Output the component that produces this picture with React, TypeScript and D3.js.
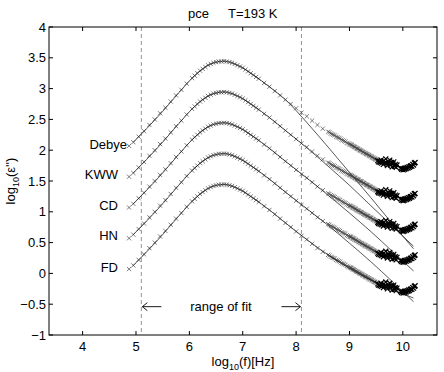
import * as d3 from "d3";

// measured loss curve (top trace, un-shifted), log10(f) vs log10(eps'')
const dataLogF = [
  4.87, 4.95, 5.05, 5.15, 5.25, 5.35, 5.45, 5.55, 5.65, 5.75, 5.85, 5.95, 6.05, 6.1,
  6.15, 6.2, 6.25, 6.3, 6.35, 6.4, 6.45, 6.5, 6.55, 6.6, 6.65, 6.7, 6.75, 6.8, 6.85,
  6.9, 6.95, 7.0, 7.05, 7.1, 7.15, 7.2, 7.25, 7.3,
  7.4, 7.5, 7.6, 7.7, 7.8, 7.9, 8.0, 8.1, 8.2, 8.3, 8.4, 8.5, 8.6,
  8.625, 8.65, 8.675, 8.7, 8.725, 8.75, 8.775, 8.8, 8.825, 8.85, 8.875, 8.9, 8.925,
  8.95, 8.975, 9.0,
  9.015, 9.03, 9.045, 9.06, 9.075, 9.09, 9.105, 9.12, 9.135, 9.15, 9.165, 9.18, 9.195,
  9.21, 9.225, 9.24, 9.255, 9.27, 9.285, 9.3, 9.315, 9.33, 9.345, 9.36, 9.375, 9.39,
  9.405, 9.42, 9.435, 9.45, 9.465, 9.48, 9.495, 9.51,
];
const dataTop = [
  2.07, 2.13, 2.22, 2.31, 2.41, 2.5, 2.6, 2.69, 2.79, 2.89, 2.98, 3.08, 3.17, 3.21,
  3.25, 3.29, 3.32, 3.35, 3.38, 3.4, 3.42, 3.43, 3.44, 3.44, 3.445, 3.44, 3.43, 3.42, 3.4,
  3.38, 3.36, 3.34, 3.31, 3.28, 3.25, 3.22, 3.19, 3.16,
  3.09, 3.03, 2.96, 2.89, 2.82, 2.75, 2.68, 2.61, 2.55, 2.48, 2.41, 2.35, 2.3,
  2.29, 2.27, 2.26, 2.25, 2.24, 2.22, 2.21, 2.2, 2.19, 2.17, 2.16, 2.15, 2.14,
  2.12, 2.11, 2.1,
  2.095, 2.09, 2.08, 2.07, 2.065, 2.055, 2.05, 2.04, 2.03, 2.025, 2.02, 2.01, 2.0,
  1.995, 1.99, 1.98, 1.97, 1.965, 1.955, 1.95, 1.94, 1.935, 1.93, 1.92, 1.91, 1.905,
  1.9, 1.89, 1.88, 1.875, 1.865, 1.86, 1.85, 1.845,
];

// noisy high-frequency points
const hfLogF = [
  9.53, 9.545, 9.56, 9.575, 9.59, 9.605, 9.62, 9.635, 9.65, 9.665, 9.68, 9.695, 9.71,
  9.725, 9.74, 9.755, 9.77, 9.785, 9.8, 9.815, 9.83, 9.845, 9.86, 9.875, 9.89,
  9.96, 9.975, 9.99, 10.005, 10.02, 10.035, 10.05, 10.065, 10.08, 10.095, 10.11,
  10.125, 10.14, 10.155, 10.17, 10.185, 10.2, 10.215, 10.23,
];
const hfTop = [
  1.83, 1.81, 1.82, 1.8, 1.84, 1.79, 1.81, 1.77, 1.83, 1.8, 1.86, 1.78, 1.75,
  1.82, 1.79, 1.84, 1.76, 1.8, 1.73, 1.78, 1.81, 1.74, 1.77, 1.72, 1.76,
  1.71, 1.69, 1.7, 1.68, 1.7, 1.69, 1.71, 1.7, 1.72, 1.71, 1.73,
  1.72, 1.74, 1.75, 1.74, 1.77, 1.76, 1.79, 1.8,
];

const models = ["Debye", "KWW", "CD", "HN", "FD"];
const offsets = [0, -0.5, -1, -1.5, -2];
const labelLevels = [2.1, 1.6, 1.11, 0.61, 0.1];

// fitted curves (un-shifted): shared part inside the fit range + per model tails
const fitLogF = [4.95, 5.2, 5.5, 5.8, 6.1, 6.4, 6.65, 6.9, 7.2, 7.5, 7.8, 8.2, 8.6, 9.0, 9.4, 9.8, 10.2];
const fitHead = [2.13, 2.35, 2.63, 2.93, 3.21, 3.4, 3.445, 3.38, 3.22, 3.03, 2.82];
const fitTails = [
  [2.45, 2.05, 1.64, 1.23, 0.81, 0.4],
  [2.54, 2.24, 1.93, 1.6, 1.27, 0.94],
  [2.55, 2.27, 1.98, 1.68, 1.36, 1.04],
  [2.55, 2.28, 1.99, 1.69, 1.37, 1.04],
  [2.55, 2.3, 2.08, 1.89, 1.74, 1.6],
];

const fitRange = [5.1, 8.1];
const xTicks = [4, 5, 6, 7, 8, 9, 10];
const yTicks = [-1, -0.5, 0, 0.5, 1, 1.5, 2, 2.5, 3, 3.5, 4];

const W = 444;
const H = 372;
const font = "'Liberation Sans', Arial, Helvetica, sans-serif";

export default function App() {
  const x = d3.scaleLinear().domain([3.37, 10.64]).range([49, 437]);
  const y = d3.scaleLinear().domain([-1, 4]).range([335, 27]);
  const [x0, x1] = x.range();
  const [y0, y1] = y.range();

  const cross = (px: number, py: number, s: number) =>
    `M${px - s},${py - s}L${px + s},${py + s}M${px - s},${py + s}L${px + s},${py - s}`;

  const line = d3
    .line<[number, number]>()
    .x((d) => x(d[0]))
    .y((d) => y(d[1]))
    .curve(d3.curveMonotoneX);

  const fmt = (v: number) => (v < 0 ? "\u2212" + String(-v) : String(v));

  return (
    <svg width={W} height={H} style={{ display: "block" }} fontFamily={font}>
      <style>{"body{margin:0}"}</style>
      <rect width={W} height={H} fill="#fff" />

      {/* range of fit */}
      {fitRange.map((v) => (
        <line
          key={v}
          x1={x(v)}
          x2={x(v)}
          y1={y1}
          y2={y0}
          stroke="#777"
          strokeWidth={0.8}
          strokeDasharray="4,3"
        />
      ))}

      {models.map((m, i) => {
        const off = offsets[i];
        const pts = dataLogF.map((f, j) => cross(x(f), y(dataTop[j] + off), 2.1)).join("");
        const hf = hfLogF.map((f, j) => cross(x(f), y(hfTop[j] + off), 2.5)).join("");
        const fit = fitLogF.map(
          (f, j) => [f, (j < fitHead.length ? fitHead[j] : fitTails[i][j - fitHead.length]) + off] as [number, number]
        );
        return (
          <g key={m}>
            <path d={pts} stroke="#444" strokeWidth={0.7} fill="none" />
            <path d={hf} stroke="#000" strokeWidth={1.2} fill="none" />
            <path d={line(fit) || ""} stroke="#111" strokeWidth={0.7} fill="none" />
            <text
              x={i === 0 ? 127 : 118}
              y={y(labelLevels[i])}
              dy="0.35em"
              textAnchor="end"
              fontSize={13}
            >
              {m}
            </text>
          </g>
        );
      })}

      {/* arrows */}
      <g stroke="#000" strokeWidth={0.9} fill="none">
        <path d={`M${x(fitRange[0]) + 1},${y(-0.54)}h19M${x(fitRange[0]) + 1},${y(-0.54)}l5,-4M${x(fitRange[0]) + 1},${y(-0.54)}l5,4`} />
        <path d={`M${x(fitRange[1]) - 1},${y(-0.54)}h-19M${x(fitRange[1]) - 1},${y(-0.54)}l-5,-4M${x(fitRange[1]) - 1},${y(-0.54)}l-5,4`} />
      </g>
      <text x={221} y={y(-0.54)} dy="0.35em" textAnchor="middle" fontSize={13}>
        range of fit
      </text>

      {/* box and ticks */}
      <rect x={x0} y={y1} width={x1 - x0} height={y0 - y1} fill="none" stroke="#000" strokeWidth={1} />
      {xTicks.map((t) => (
        <g key={t}>
          <line x1={x(t)} x2={x(t)} y1={y0} y2={y0 - 4} stroke="#000" />
          <line x1={x(t)} x2={x(t)} y1={y1} y2={y1 + 4} stroke="#000" />
          <text x={x(t)} y={y0 + 16} textAnchor="middle" fontSize={13}>
            {t}
          </text>
        </g>
      ))}
      {yTicks.map((t) => (
        <g key={t}>
          <line x1={x0} x2={x0 + 4} y1={y(t)} y2={y(t)} stroke="#000" />
          <line x1={x1} x2={x1 - 4} y1={y(t)} y2={y(t)} stroke="#000" />
          <text x={x0 - 3} y={y(t)} dy="0.35em" textAnchor="end" fontSize={13}>
            {fmt(t)}
          </text>
        </g>
      ))}

      {/* labels */}
      <text x={188} y={18} fontSize={13}>
        pce
      </text>
      <text x={228} y={18} fontSize={13}>
        T=193 K
      </text>
      <text x={243} y={366} textAnchor="middle" fontSize={13}>
        log<tspan fontSize={9} dy={4}>10</tspan>
        <tspan dy={-4}>(f)[Hz]</tspan>
      </text>
      <text transform={`translate(15,${(y0 + y1) / 2}) rotate(-90)`} textAnchor="middle" fontSize={13}>
        log<tspan fontSize={9} dy={4}>10</tspan>
        <tspan dy={-4}>(ε'')</tspan>
      </text>
    </svg>
  );
}
